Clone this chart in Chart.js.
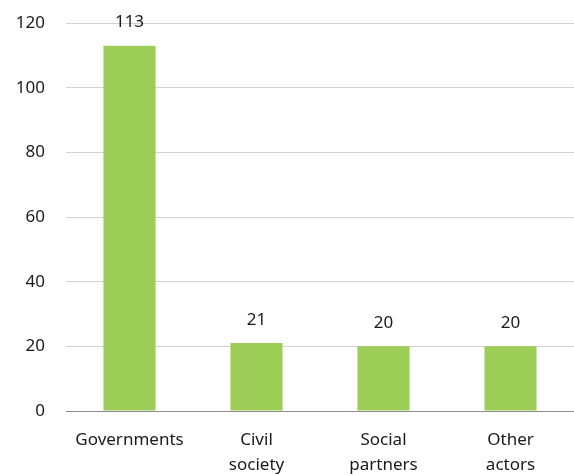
<!DOCTYPE html>
<html><head><meta charset="utf-8">
<script src="https://cdn.jsdelivr.net/npm/chart.js@4/dist/chart.umd.min.js"></script>
<style>html,body{margin:0;padding:0;overflow:hidden;background:#fff}#wrap{width:574px;height:492px;position:relative}</style>
</head><body><div id="wrap"><canvas id="c"></canvas></div>
<script>
const categories = [['Governments'], ['Civil','society'], ['Social','partners'], ['Other','actors']];
const values = [113, 21, 20, 20];
const yTicks = [0, 20, 40, 60, 80, 100, 120];

const FONT = '"Noto Sans", sans-serif';
const valueLabels = {
  id: 'valueLabels',
  afterDatasetsDraw(chart) {
    const ctx = chart.ctx;
    const meta = chart.getDatasetMeta(0);
    ctx.save();
    ctx.font = '17px ' + FONT;
    ctx.fillStyle = '#1a1a1a';
    ctx.textAlign = 'center';
    ctx.textBaseline = 'middle';
    meta.data.forEach((bar, i) => {
      ctx.fillText(String(values[i]), bar.x, bar.y - 23);
    });
    ctx.restore();
  }
};

new Chart(document.getElementById('c'), {
  type: 'bar',
  data: {
    labels: categories,
    datasets: [{
      data: values,
      backgroundColor: '#9BCD57',
      borderWidth: 0,
      barPercentage: 0.41,
      categoryPercentage: 1
    }]
  },
  options: {
    responsive: true,
    maintainAspectRatio: false,
    animation: false,
    layout: { padding: { top: 23, right: 0, left: 0, bottom: 0 } },
    plugins: { legend: { display: false }, tooltip: { enabled: false } },
    scales: {
      x: {
        grid: { display: false, drawTicks: false },
        border: { display: true, color: '#8c8c8c', width: 1 },
        ticks: { color: '#1a1a1a', font: { family: FONT, size: 17, lineHeight: 1.47 }, padding: 17, maxRotation: 0, autoSkip: false },
        afterFit(s) { s.height = 492 - 411; s.paddingLeft = 0; s.paddingRight = 0; }
      },
      y: {
        min: 0, max: 120,
        afterBuildTicks(s) { s.ticks = yTicks.map(v => ({ value: v })); },
        grid: { color: '#d0d0d0', lineWidth: 1, drawTicks: false },
        border: { display: false },
        ticks: { color: '#1a1a1a', font: { family: FONT, size: 17 }, padding: 21 },
        afterFit(s) { s.width = 66; s.paddingTop = 0; s.paddingBottom = 0; }
      }
    }
  },
  plugins: [valueLabels]
});
</script></body></html>
